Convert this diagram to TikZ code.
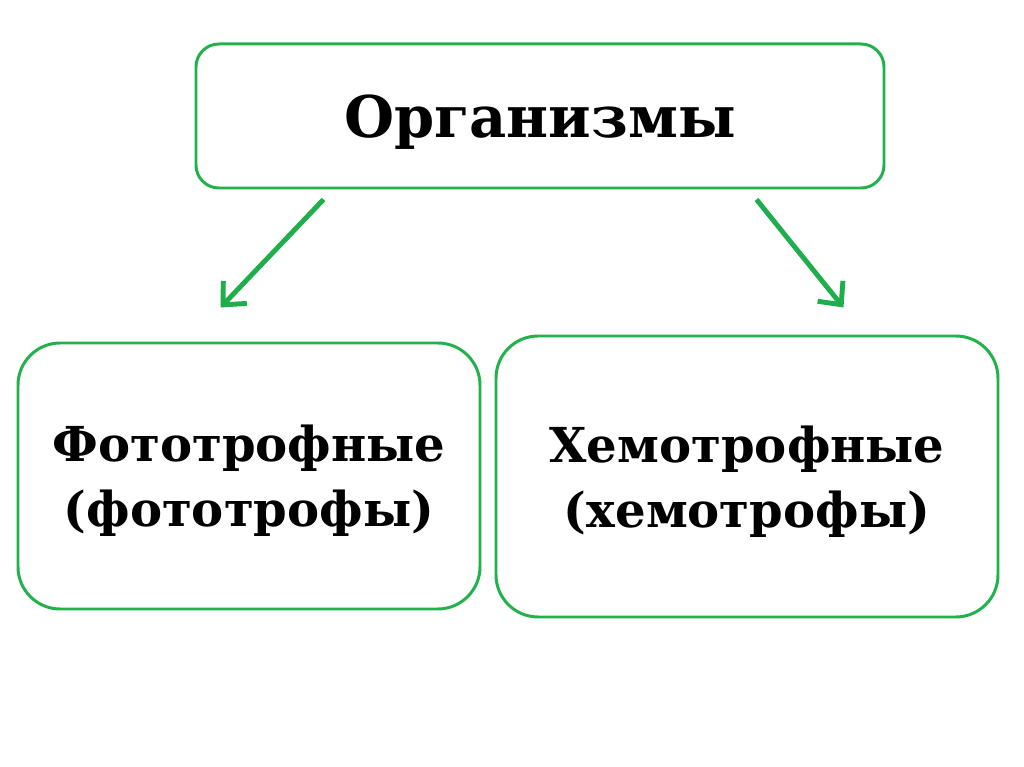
\documentclass[tikz,border=0pt]{standalone}
\usepackage{fontspec}
\setmainfont{DejaVu Serif}
\usetikzlibrary{
    positioning,
    calc,
    arrows.meta
}
\definecolor{VerdeBorda}{HTML}{22B14C}
\definecolor{VerdeSeta}{HTML}{1FAE4B}

\begin{document}
\begin{tikzpicture}[
        caixa/.style={
            draw=VerdeBorda,
            line width=1.7pt,
            fill=white,
            align=center,
            inner sep=0pt,
            text depth=0pt,
            font=\bfseries\fontsize{27.4}{37}\selectfont
        },
        seta/.style={
            draw=VerdeSeta,
            line width=2.8pt,
            -{Straight Barb[length=3.5mm,width=6.5mm,line width=2.8pt]}
        }
    ]
    \useasboundingbox (0,0) rectangle (20.48,-15.34);
    % caixa de cima
    \node[caixa,
        rounded corners=13pt,
        minimum width=13.76cm,
        minimum height=2.88cm,
        font=\bfseries\fontsize{32.7}{40}\selectfont
    ] (org) at (10.80,-2.32) {Организмы};
    % caixas de baixo
    \node[caixa,
        rounded corners=24pt,
        minimum width=9.24cm,
        minimum height=5.32cm
    ] (foto) at (4.98,-9.52) {Фототрофные\\(фототрофы)};
    \node[caixa,
        rounded corners=24pt,
        minimum width=10.04cm,
        minimum height=5.62cm
    ] (quimio) at (14.94,-9.53) {Хемотрофные\\(хемотрофы)};
    % setas
    \coordinate (l1) at ([xshift=2.58cm,yshift=-0.2cm]org.south west);
    \coordinate (l2) at ([xshift=4.08cm,yshift=0.68cm]foto.north west);
    \coordinate (r1) at ([xshift=-2.58cm,yshift=-0.2cm]org.south east);
    \coordinate (r2) at ([xshift=-3.12cm,yshift=0.54cm]quimio.north east);
    \draw[seta] (l1) -- (l2);
    \draw[seta] (r1) -- (r2);
\end{tikzpicture}
\end{document}
